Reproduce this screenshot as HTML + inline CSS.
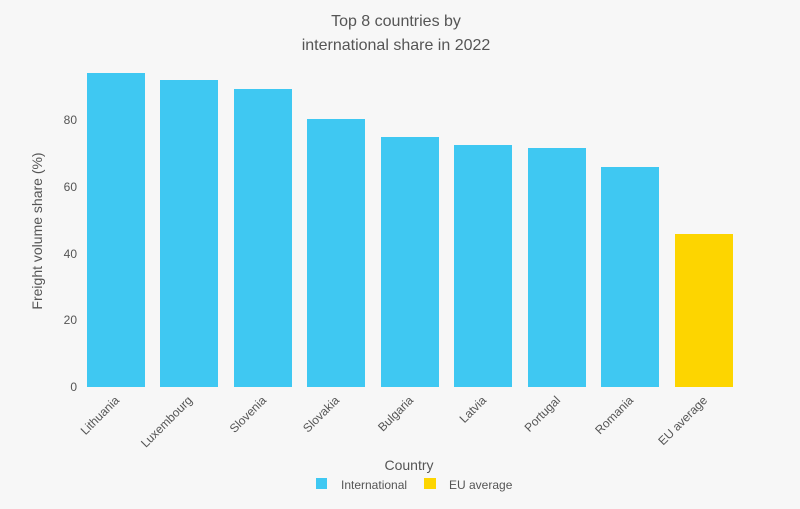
<!DOCTYPE html>
<html><head><meta charset="utf-8"><style>
html,body{margin:0;padding:0;background:#f7f7f7;}
svg{display:block;font-family:"Liberation Sans",Arial,sans-serif;}
</style></head><body>
<svg width="800" height="509" viewBox="0 0 800 509">
<rect width="800" height="509" fill="#f7f7f7"/>
<text x="396" y="26" text-anchor="middle" font-size="16" fill="#555">Top 8 countries by</text>
<text x="396" y="50" text-anchor="middle" font-size="16" fill="#555">international share in 2022</text>
<text transform="translate(42,231) rotate(-90)" text-anchor="middle" font-size="14" fill="#555">Freight volume share (%)</text>
<g font-size="12" fill="#555" text-anchor="end">
<text x="77" y="391">0</text>
<text x="77" y="324">20</text>
<text x="77" y="258">40</text>
<text x="77" y="191">60</text>
<text x="77" y="124">80</text>
</g>
<g fill="#3fc8f2">
<rect x="87" y="73" width="58" height="314"/>
<rect x="160" y="80" width="58" height="307"/>
<rect x="234" y="89" width="58" height="298"/>
<rect x="307" y="119" width="58" height="268"/>
<rect x="381" y="137" width="58" height="250"/>
<rect x="454" y="145" width="58" height="242"/>
<rect x="528" y="148" width="58" height="239"/>
<rect x="601" y="167" width="58" height="220"/>
</g>
<rect x="675" y="234" width="58" height="153" fill="#fdd500"/>
<g font-size="12" fill="#555" text-anchor="end">
<text transform="translate(120,401) rotate(-45)">Lithuania</text>
<text transform="translate(193,401) rotate(-45)">Luxembourg</text>
<text transform="translate(267,401) rotate(-45)">Slovenia</text>
<text transform="translate(340,401) rotate(-45)">Slovakia</text>
<text transform="translate(414,401) rotate(-45)">Bulgaria</text>
<text transform="translate(487,401) rotate(-45)">Latvia</text>
<text transform="translate(561,401) rotate(-45)">Portugal</text>
<text transform="translate(634,401) rotate(-45)">Romania</text>
<text transform="translate(708,401) rotate(-45)">EU average</text>
</g>
<text x="409" y="470" text-anchor="middle" font-size="14" fill="#555">Country</text>
<rect x="316" y="478" width="11" height="11" fill="#3fc8f2"/>
<text x="341" y="489" font-size="12" fill="#555">International</text>
<rect x="424" y="478" width="12" height="11" fill="#fdd500"/>
<text x="449" y="489" font-size="12" fill="#555">EU average</text>
</svg>
</body></html>
